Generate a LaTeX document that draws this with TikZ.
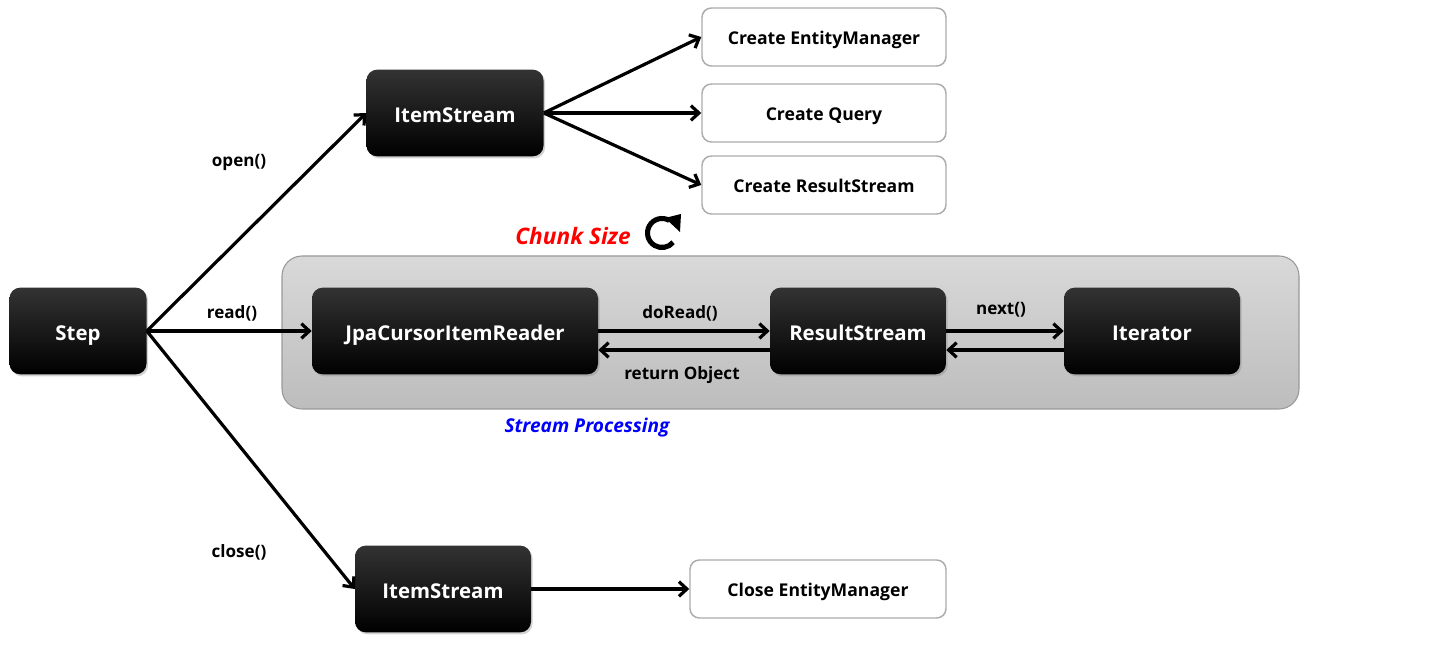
\documentclass[tikz,border=0pt]{standalone}
\usepackage{fontspec}
\setmainfont{Open Sans}
\usepackage{tikz}
\usetikzlibrary{calc,positioning,arrows.meta,shadows}
\tikzstyle{blackbox}  = [rectangle, rounded corners=8pt, minimum height=65pt, text=white, text height=14pt, text depth=0pt, font=\bfseries\fontsize{15.3}{18}\selectfont, top color=black!80, middle color=black, bottom color=black, drop shadow={shadow xshift=1.2pt, shadow yshift=-1.5pt, opacity=0.35}]
\tikzstyle{whitebox}  = [rectangle, rounded corners=7pt, minimum width=183pt, minimum height=43.5pt, text height=12pt, text depth=0pt, draw=gray!65, line width=1.1pt, fill=white, font=\bfseries\fontsize{13.2}{15}\selectfont]
\tikzstyle{arrow}     = [line width=2.4pt,-{Straight Barb[length=6pt,width=11pt]}]
\tikzstyle{edgelabel} = [font=\bfseries\fontsize{12.8}{15}\selectfont]

\begin{document}
\begin{tikzpicture}[x=0.75pt,y=0.75pt]
        \useasboundingbox (0,0) rectangle (1454,645);
        % stream processing area
        \node[rectangle, rounded corners=15pt, draw=gray!80, line width=0.8pt, top color=gray!30, bottom color=gray!52, minimum width=762.75pt, minimum height=114.75pt] (area) at (790.5,312.5) {};
        \node[font=\bfseries\itshape\fontsize{14.3}{17}\selectfont, text=blue] (streamproc) at (587,217) {Stream Processing};
        \node[font=\bfseries\itshape\fontsize{17}{20}\selectfont, text=red] (chunk) at (573,409) {Chunk Size};
        % refresh icon
        \draw[line width=3.8pt] (662,412) ++(60:14.5) arc[start angle=60, end angle=320, radius=14.5];
        \fill (665,427) -- (681,431) -- (680,413) -- cycle;

        % main nodes
        \node[blackbox, minimum width=102.75pt] (step) at (78,314) {Step};
        \node[blackbox, minimum width=132.75pt] (isopen) at (455,532) {ItemStream};
        \node[blackbox, minimum width=214.5pt] (reader) at (455,314) {JpaCursorItemReader};
        \node[blackbox, minimum width=132pt] (rstream) at (858,314) {ResultStream};
        \node[blackbox, minimum width=132pt] (iter) at (1152,314) {Iterator};
        \node[blackbox, minimum width=132pt] (isclose) at (443,56) {ItemStream};

        \node[whitebox] (createem) at (824,608) {Create\ EntityManager};
        \node[whitebox] (createq) at (824,532) {Create\ Query};
        \node[whitebox] (creaters) at (824,460) {Create\ ResultStream};
        \node[whitebox, minimum width=192pt] (closeem) at (818,56) {Close\ EntityManager};

        % connectors
        \draw[arrow] (step.east) -- (isopen.west);
        \draw[arrow] (step.east) -- (reader.west);
        \draw[arrow] (step.east) -- (isclose.west);
        \node[edgelabel] (lopen) at (239,483) {open()};
        \node[edgelabel] (lread) at (232,332) {read()};
        \node[edgelabel] (lclose) at (239,93) {close()};

        \draw[arrow] (isopen.east) -- (createem.west);
        \draw[arrow] (isopen.east) -- (createq.west);
        \draw[arrow] (isopen.east) -- (creaters.west);
        \draw[arrow] (isclose.east) -- (closeem.west);

        \draw[arrow] (reader.east) -- (rstream.west);
        \draw[arrow] ($(rstream.west)+(0,-19)$) -- ($(reader.east)+(0,-19)$);
        \draw[arrow] (rstream.east) -- (iter.west);
        \draw[arrow] ($(iter.west)+(0,-19)$) -- ($(rstream.east)+(0,-19)$);
        \node[edgelabel] (ldoread) at (680,332) {doRead()};
        \node[edgelabel] (lreturn) at (682,270) {return Object};
        \node[edgelabel] (lnext) at (1001,335) {next()};
    \end{tikzpicture}
\end{document}
